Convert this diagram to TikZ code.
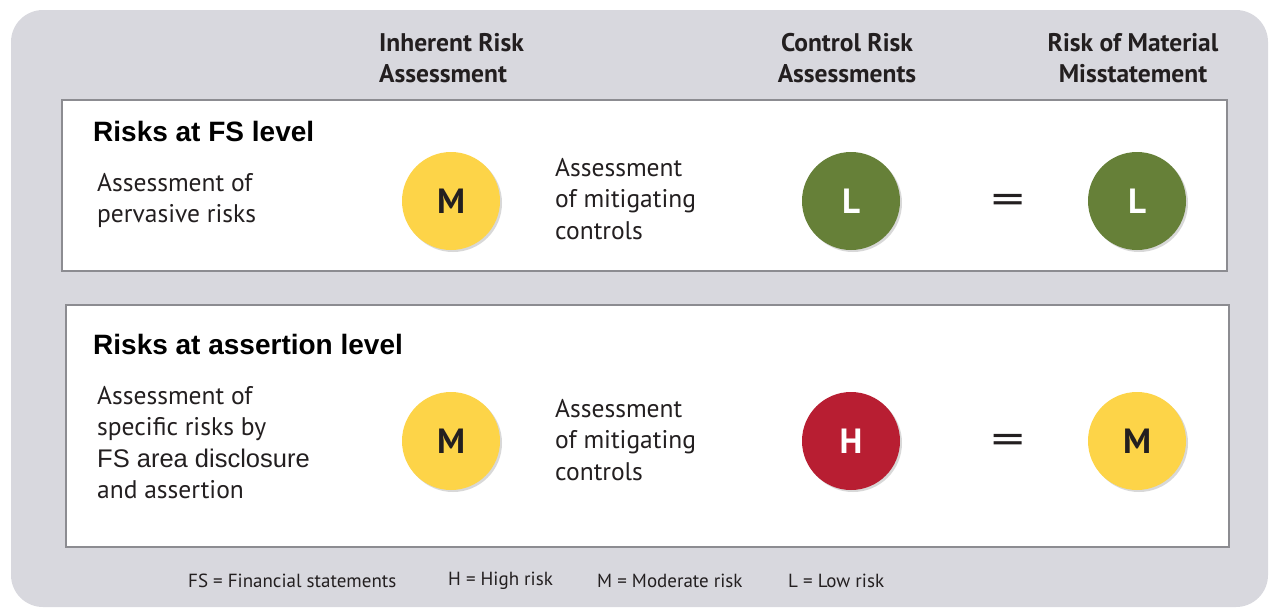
\documentclass[tikz,border=0pt]{standalone}
\usepackage{fontspec}
\setmainfont{PT Sans}
\newfontfamily\arialf{Liberation Sans}
\usetikzlibrary{shadows}
\definecolor{bggray}{RGB}{216,216,222}
\definecolor{boxgray}{RGB}{140,140,145}
\definecolor{ryellow}{RGB}{253,212,72}
\definecolor{rgreen}{RGB}{102,128,56}
\definecolor{rred}{RGB}{184,30,50}
\definecolor{txt}{RGB}{35,31,32}
\begin{document}
\begin{tikzpicture}[x=1pt,y=-1pt,
  panel/.style={draw=boxgray, line width=1.2pt, fill=white},
  risk/.style={circle, minimum size=98pt, inner sep=0pt, text=txt,
    font=\fontsize{35}{35}\selectfont\bfseries,
    drop shadow={opacity=0.3, shadow xshift=2pt, shadow yshift=-2pt}},
  head/.style={font=\fontsize{25.5}{31}\selectfont\bfseries, text=txt, inner sep=0pt},
  ttl/.style={font=\arialf\fontsize{28}{30}\selectfont\bfseries, text=black, inner sep=0pt, anchor=north west},
  body/.style={font=\fontsize{25.5}{31.5}\selectfont, text=txt, inner sep=0pt, align=left, anchor=north west},
  eqs/.style={font=\fontsize{44}{44}\selectfont, text=txt, inner sep=0pt},
  leg/.style={font=\fontsize{19}{20}\selectfont, text=txt, inner sep=0pt, anchor=west}]
\useasboundingbox (0,0) rectangle (1269,613);
\fill[bggray, rounded corners=32pt] (11,10) rectangle (1268,607);
% headers
\node[head, align=left, anchor=north west] (hira) at (379,33) {Inherent Risk\\Assessment};
\node[head, align=center, anchor=north] (hcra) at (847,33) {Control Risk\\Assessments};
\node[head, align=center, anchor=north] (hrmm) at (1133,33) {Risk of Material\\Misstatement};
% panels
\draw[panel] (62,100) rectangle (1227,271);
\draw[panel] (66,305) rectangle (1229,547);
% row 1
\node[ttl] (t1) at (93,121) {Risks at FS level};
\node[body] (d1) at (97,173) {Assessment of\\pervasive risks};
\node[risk, fill=ryellow] (ir1) at (451,201) {M};
\node[body] (m1) at (555,158) {Assessment\\of mitigating\\controls};
\node[risk, fill=rgreen, text=white] (cr1) at (851,201) {L};
\node[eqs] (eq1) at (1008,204) {\scalebox{1.5}[1]{=}};
\node[risk, fill=rgreen, text=white] (rm1) at (1137,201) {L};
% row 2
\node[ttl] (t2) at (93,334) {Risks at assertion level};
\node[body] (d2) at (97,386) {Assessment of\\specific risks by\\{\arialf\fontsize{25.5}{31.5}\selectfont FS area disclosure}\\and assertion};
\node[risk, fill=ryellow] (ir2) at (451,441) {M};
\node[body] (m2) at (555,399) {Assessment\\of mitigating\\controls};
\node[risk, fill=rred, text=white] (cr2) at (851,441) {H};
\node[eqs] (eq2) at (1008,444) {\scalebox{1.5}[1]{=}};
\node[risk, fill=ryellow] (rm2) at (1137,441) {M};
% legend
\node[leg] (l1) at (188,581) {FS = Financial statements};
\node[leg] (l2) at (448,581) {H = High risk};
\node[leg] (l3) at (597,581) {M = Moderate risk};
\node[leg] (l4) at (788,581) {L = Low risk};
\end{tikzpicture}
\end{document}
